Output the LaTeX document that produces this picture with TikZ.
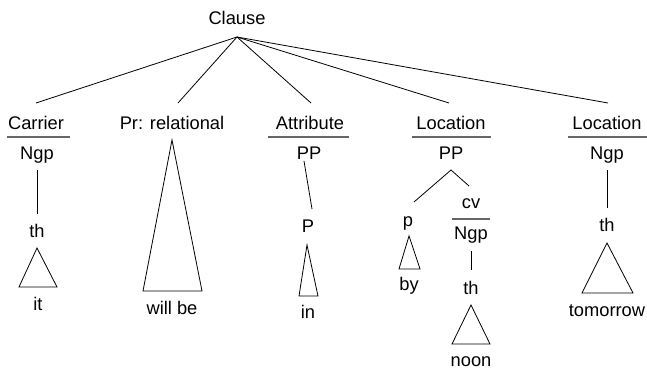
\documentclass[tikz,border=0pt]{standalone}
\usepackage{fontspec}
\setmainfont{Liberation Sans}
\begin{document}
\begin{tikzpicture}[x=1pt,y=-1pt,
  lbl/.style={anchor=base,inner sep=0pt,font=\fontsize{18.3}{20}\selectfont},
  edge/.style={line width=0.8pt},
  rule/.style={line width=1.3pt,draw=black!60},
  tri/.style={line width=0.8pt,line join=miter}]
\useasboundingbox (0,0) rectangle (647,371);
% labels
\node[lbl] (clause) at (237,25) {Clause};
\node[lbl] (carrier) at (36,130) {Carrier};
\node[lbl] (pr) at (172,130) {Pr: relational};
\node[lbl] (attr) at (310,130) {Attribute};
\node[lbl] (loc1) at (451,130) {Location};
\node[lbl] (loc2) at (607,130) {Location};
\node[lbl] (ngp1) at (37,159.5) {Ngp};
\node[lbl] (pp1) at (309,159.5) {PP};
\node[lbl] (pp2) at (451,159.5) {PP};
\node[lbl] (ngp3) at (607,159.5) {Ngp};
\node[lbl] (th1) at (37,237) {th};
\node[lbl] (it) at (38,310) {it};
\node[lbl] (willbe) at (172,314) {will be};
\node[lbl] (P) at (308,233) {P};
\node[lbl] (in) at (308,318) {in};
\node[lbl] (p) at (408,226) {p};
\node[lbl] (by) at (409,290) {by};
\node[lbl] (cv) at (471,209) {cv};
\node[lbl] (ngp2) at (471,240) {Ngp};
\node[lbl] (th2) at (471,294) {th};
\node[lbl] (noon) at (471,366) {noon};
\node[lbl] (th3) at (607,232) {th};
\node[lbl] (tomorrow) at (607,316) {tomorrow};
% connector points
\coordinate (apex) at (237,37);
\coordinate (eCarrier) at (36,103);
\coordinate (ePr) at (178,103);
\coordinate (eAttr) at (311,103);
\coordinate (eLoc1) at (449,103);
\coordinate (eLoc2) at (608,103);
\draw[edge] (apex) -- (eCarrier);
\draw[edge] (apex) -- (ePr);
\draw[edge] (apex) -- (eAttr);
\draw[edge] (apex) -- (eLoc1);
\draw[edge] (apex) -- (eLoc2);
% underlines
\draw[rule] (7,137) -- (70,137);
\draw[rule] (268,137) -- (349,137);
\draw[rule] (412,137) -- (491,137);
\draw[rule] (568,137) -- (647,137);
\draw[rule] (452,219) -- (490,219);
% Carrier branch
\coordinate (c1a) at (37,170);
\coordinate (c1b) at (37,214);
\draw[edge] (c1a) -- (c1b);
\draw[tri] (37,248) -- (57,287) -- (19,287) -- cycle;
% Pr branch
\draw[tri] (172,140) -- (202,291) -- (143,291) -- cycle;
% Attribute branch
\coordinate (a1a) at (304,161);
\coordinate (a1b) at (312,209);
\draw[edge] (a1a) -- (a1b);
\draw[tri] (307,245) -- (318,296) -- (299,296) -- cycle;
% Location 1 branch
\coordinate (l1apex) at (451,170);
\coordinate (l1left) at (414,202);
\coordinate (l1right) at (469,186);
\draw[edge] (l1left) -- (l1apex) -- (l1right);
\draw[tri] (409,236) -- (420,269) -- (399,269) -- cycle;
\coordinate (n2a) at (471,251);
\coordinate (n2b) at (471,270);
\draw[edge] (n2a) -- (n2b);
\draw[tri] (471,305) -- (490,344) -- (452,344) -- cycle;
% Location 2 branch
\coordinate (n3a) at (607,170);
\coordinate (n3b) at (607,208);
\draw[edge] (n3a) -- (n3b);
\draw[tri] (607,243) -- (633,293) -- (582,293) -- cycle;
\end{tikzpicture}
\end{document}
